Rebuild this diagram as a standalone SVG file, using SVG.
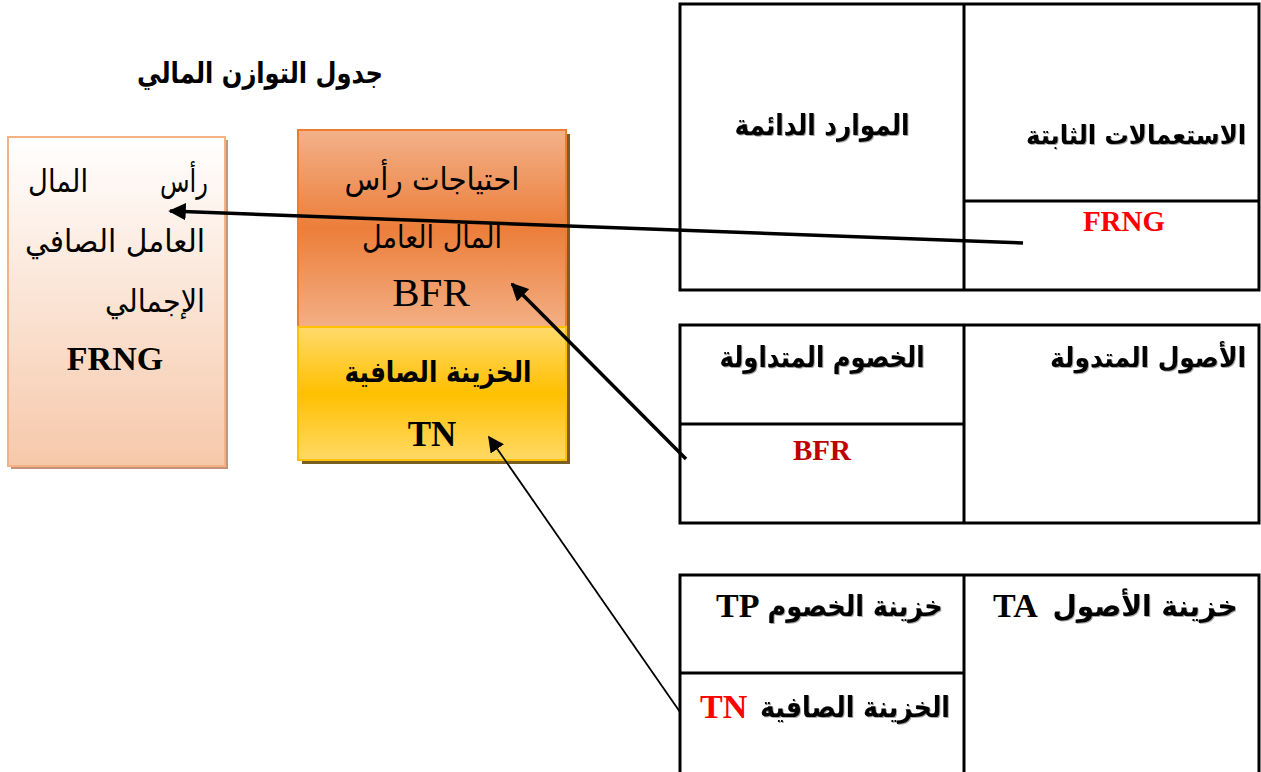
<svg xmlns="http://www.w3.org/2000/svg" width="1261" height="772" viewBox="0 0 1261 772">
  <style>
    .ar { font-family: "DejaVu Sans", "Noto Sans", sans-serif; fill: #000; }
    .arb { font-family: "DejaVu Sans", "Noto Sans", sans-serif; font-weight: bold; fill: #000; }
    .lat { font-family: "Liberation Serif", "Times New Roman", serif; font-weight: bold; }
    .cell { fill: none; stroke: #000; stroke-width: 3; }
    .conn { fill: none; stroke: #000; }
  </style>
  <defs>
    <linearGradient id="gPeach" x1="0" y1="0" x2="0" y2="1">
      <stop offset="0" stop-color="#FFFFFF"/>
      <stop offset="1" stop-color="#F6C8AA"/>
    </linearGradient>
    <linearGradient id="gOrange" x1="0" y1="0" x2="0" y2="1">
      <stop offset="0" stop-color="#F3B18A"/>
      <stop offset="0.5" stop-color="#EC7E3A"/>
      <stop offset="1" stop-color="#F3AF85"/>
    </linearGradient>
    <linearGradient id="gYellow" x1="0" y1="0" x2="0" y2="1">
      <stop offset="0" stop-color="#FFDA6C"/>
      <stop offset="0.5" stop-color="#FFC000"/>
      <stop offset="1" stop-color="#FFD966"/>
    </linearGradient>
    <filter id="txtShadow" x="-15%" y="-60%" width="130%" height="220%">
      <feDropShadow dx="1" dy="1" stdDeviation="0.6" flood-color="#000" flood-opacity="0.35"/>
    </filter>
    <marker id="arrow" viewBox="0 0 10 10" refX="9" refY="5" markerWidth="5" markerHeight="5" orient="auto-start-reverse" markerUnits="strokeWidth">
      <path d="M0,0 L10,5 L0,10 z" fill="#000"/>
    </marker>
    <marker id="arrowThin" viewBox="0 0 10 10" refX="9" refY="5" markerWidth="9" markerHeight="9" orient="auto-start-reverse" markerUnits="strokeWidth">
      <path d="M0,0 L10,5 L0,10 z" fill="#000"/>
    </marker>
  </defs>

  <rect width="1261" height="772" fill="#fff"/>

  <!-- heading -->
  <g id="title">
    <text class="arb" x="260" y="83" font-size="29" text-anchor="middle" direction="rtl" textLength="246" lengthAdjust="spacingAndGlyphs">جدول التوازن المالي</text>
  </g>

  <!-- net global working capital -->
  <g id="frng-box">
    <rect x="11" y="140" width="217" height="329" fill="#C4957A"/>
    <rect x="8" y="137" width="217" height="329" fill="url(#gPeach)" stroke="#F4B183" stroke-width="2"/>
    <text class="ar" x="184" y="192" font-size="31" text-anchor="middle" direction="rtl" textLength="48" lengthAdjust="spacingAndGlyphs">رأس</text>
    <text class="ar" x="58" y="192" font-size="31" text-anchor="middle" direction="rtl" textLength="60" lengthAdjust="spacingAndGlyphs">المال</text>
    <text class="ar" x="115" y="252" font-size="31" text-anchor="middle" direction="rtl" textLength="180" lengthAdjust="spacingAndGlyphs">العامل الصافي</text>
    <text class="ar" x="155" y="312" font-size="31" text-anchor="middle" direction="rtl" textLength="100" lengthAdjust="spacingAndGlyphs">الإجمالي</text>
    <text class="lat" x="115" y="370" font-size="34" text-anchor="middle" fill="#000">FRNG</text>
  </g>

  <!-- working capital requirement / net treasury -->
  <g id="bfr-box">
    <rect x="302" y="134" width="268" height="330" fill="#7A6020"/>
    <rect x="298" y="130" width="268" height="197" fill="url(#gOrange)" stroke="#ED7D31" stroke-width="2"/>
    <text class="ar" x="432" y="190" font-size="31" text-anchor="middle" direction="rtl" textLength="175" lengthAdjust="spacingAndGlyphs">احتياجات رأس</text>
    <text class="ar" x="432" y="248" font-size="31" text-anchor="middle" direction="rtl" textLength="140" lengthAdjust="spacingAndGlyphs">المال العامل</text>
    <text x="431" y="306" font-family="Liberation Serif, serif" font-size="41" text-anchor="middle" fill="#000">BFR</text>
  </g>
  <g id="tn-box">
    <rect x="298" y="327" width="268" height="133" fill="url(#gYellow)" stroke="#FFC000" stroke-width="2"/>
    <text class="arb" x="438" y="382" font-size="29" text-anchor="middle" direction="rtl" textLength="187" lengthAdjust="spacingAndGlyphs">الخزينة الصافية</text>
    <text class="lat" x="432" y="446" font-size="35" text-anchor="middle" fill="#000">TN</text>
  </g>

  <!-- balance sheet: fixed part -->
  <g id="table-fixed">
    <rect class="cell" x="680" y="4" width="579" height="286"/>
    <line class="cell" x1="964" y1="4" x2="964" y2="290"/>
    <line class="cell" x1="964" y1="201" x2="1259" y2="201"/>
    <text class="arb" x="822" y="135" font-size="29" text-anchor="middle" direction="rtl" filter="url(#txtShadow)" textLength="175" lengthAdjust="spacingAndGlyphs">الموارد الدائمة</text>
    <text class="arb" x="1136" y="144" font-size="26" text-anchor="middle" direction="rtl" filter="url(#txtShadow)" textLength="220" lengthAdjust="spacingAndGlyphs">الاستعمالات الثابتة</text>
    <text class="lat" x="1124" y="231" font-size="29" text-anchor="middle" fill="#FF0000">FRNG</text>
  </g>

  <!-- balance sheet: current part -->
  <g id="table-current">
    <rect class="cell" x="680" y="325" width="579" height="198"/>
    <line class="cell" x1="964" y1="325" x2="964" y2="523"/>
    <line class="cell" x1="680" y1="424" x2="964" y2="424"/>
    <text class="arb" x="822" y="367" font-size="29" text-anchor="middle" direction="rtl" filter="url(#txtShadow)" textLength="205" lengthAdjust="spacingAndGlyphs">الخصوم المتداولة</text>
    <text class="arb" x="1148" y="367" font-size="27" text-anchor="middle" direction="rtl" filter="url(#txtShadow)" textLength="196" lengthAdjust="spacingAndGlyphs">الأصول المتدولة</text>
    <text class="lat" x="822" y="460" font-size="29" text-anchor="middle" fill="#C00000">BFR</text>
  </g>

  <!-- balance sheet: treasury part -->
  <g id="table-treasury">
    <rect class="cell" x="680" y="575" width="579" height="210"/>
    <line class="cell" x1="964" y1="575" x2="964" y2="772"/>
    <line class="cell" x1="680" y1="673" x2="964" y2="673"/>
    <text class="arb" x="855" y="616" font-size="29" text-anchor="middle" direction="rtl" filter="url(#txtShadow)" textLength="175" lengthAdjust="spacingAndGlyphs">خزينة الخصوم</text>
    <text class="lat" x="716" y="617" font-size="34" fill="#000">TP</text>
    <text class="arb" x="1145" y="616" font-size="29" text-anchor="middle" direction="rtl" filter="url(#txtShadow)" textLength="185" lengthAdjust="spacingAndGlyphs">خزينة الأصول</text>
    <text class="lat" x="993" y="617" font-size="34" fill="#000">TA</text>
    <text class="arb" x="855" y="717" font-size="29" text-anchor="middle" direction="rtl" filter="url(#txtShadow)" textLength="190" lengthAdjust="spacingAndGlyphs">الخزينة الصافية</text>
    <text class="lat" x="700" y="718" font-size="34" fill="#FF0000">TN</text>
  </g>

  <!-- connectors -->
  <g id="connectors">
    <line class="conn" x1="1023" y1="243" x2="170" y2="211" stroke-width="3.5" marker-end="url(#arrow)"/>
    <line class="conn" x1="686" y1="459" x2="512" y2="284" stroke-width="3.5" marker-end="url(#arrow)"/>
    <line class="conn" x1="680" y1="712" x2="489" y2="437" stroke-width="1.8" marker-end="url(#arrowThin)"/>
  </g>
</svg>
